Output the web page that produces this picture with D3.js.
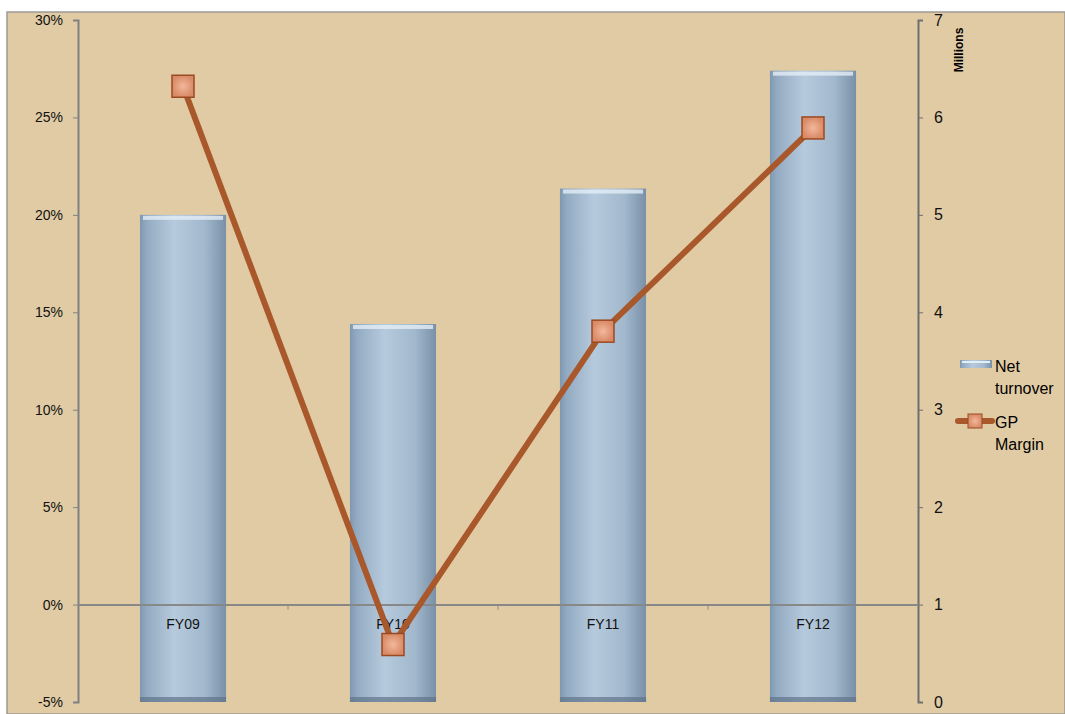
<!DOCTYPE html>
<html>
<head>
<meta charset="utf-8">
<script src="https://cdn.jsdelivr.net/npm/d3@7"></script>
<style>
  body { margin: 0; background: #fff; }
  svg { display: block; font-family: "Liberation Sans", Arial, sans-serif; }
</style>
</head>
<body>
<div class="chart"></div>
<script>
'use strict';

var categories = ['FY09', 'FY10', 'FY11', 'FY12'];
var turnover = [5.0, 3.88, 5.27, 6.48];       // millions, right axis
var gpMargin = [0.266, -0.0205, 0.1403, 0.2446]; // left axis
var pctTicks = [-0.05, 0, 0.05, 0.10, 0.15, 0.20, 0.25, 0.30];
var millionTicks = [0, 1, 2, 3, 4, 5, 6, 7];

(function () {
  var width = 1065, height = 714;
  var left = 78, right = 918, top = 20, bottom = 702;

  var svg = d3.select('.chart').append('svg')
      .attr('width', width)
      .attr('height', height);

  var defs = svg.append('defs');
  var barGrad = defs.append('linearGradient').attr('id', 'barGrad');
  [[0, '#7f98b0'], [0.08, '#93abc2'], [0.4, '#b6cadd'], [0.75, '#a2b8cc'], [1, '#7990a8']]
    .forEach(function (s) {
      barGrad.append('stop').attr('offset', s[0]).attr('stop-color', s[1]);
    });
  var markGrad = defs.append('radialGradient').attr('id', 'markGrad');
  markGrad.append('stop').attr('offset', 0).attr('stop-color', '#f2b89c');
  markGrad.append('stop').attr('offset', 1).attr('stop-color', '#d98a66');

  // background
  svg.append('rect')
      .attr('x', 7).attr('y', 12)
      .attr('width', width - 7).attr('height', height - 12)
      .attr('fill', '#e0cba4')
      .attr('stroke', '#9c9a94').attr('stroke-width', 1.5);

  var x = d3.scaleBand().domain(categories).range([left, right]).paddingInner(0.59).paddingOuter(0.295);
  var xc = d3.scaleBand().domain(categories).range([left, right]);
  var yL = d3.scaleLinear().domain([-0.05, 0.30]).range([bottom, top]);
  var yR = d3.scaleLinear().domain([0, 7]).range([bottom, top]);
  var pct = function (d) { return Math.round(d * 100) + '%'; };

  // bars
  var bars = svg.append('g').selectAll('g')
      .data(turnover)
    .enter().append('g');
  bars.append('rect')
      .attr('x', function (d, i) { return x(categories[i]); })
      .attr('y', function (d) { return yR(d); })
      .attr('width', x.bandwidth())
      .attr('height', function (d) { return yR(0) - yR(d); })
      .attr('fill', 'url(#barGrad)');
  bars.append('rect')
      .attr('x', function (d, i) { return x(categories[i]) + 3; })
      .attr('y', function (d) { return yR(d) + 1; })
      .attr('width', x.bandwidth() - 6)
      .attr('height', 4)
      .attr('fill', '#e4eef6').attr('opacity', 0.8);
  bars.append('rect')
      .attr('x', function (d, i) { return x(categories[i]); })
      .attr('y', yR(0) - 5)
      .attr('width', x.bandwidth())
      .attr('height', 5)
      .attr('fill', '#5f748a').attr('opacity', 0.7);

  // left axis
  var axL = svg.append('g')
      .attr('transform', 'translate(' + left + ',0)')
      .call(d3.axisLeft(yL).tickValues(pctTicks).tickSize(5).tickPadding(10)
        .tickFormat(pct));
  axL.select('.domain').attr('stroke', '#808080').attr('stroke-width', 2);
  axL.selectAll('.tick line').attr('stroke', '#808080');
  axL.selectAll('text').attr('font-size', 14).attr('fill', '#111');

  // right axis
  var axR = svg.append('g')
      .attr('transform', 'translate(' + right + ',0)')
      .call(d3.axisRight(yR).tickValues(millionTicks).tickSize(5).tickPadding(11)
        .tickFormat(d3.format('d')));
  axR.select('.domain').attr('stroke', '#6e6e6e').attr('stroke-width', 2);
  axR.selectAll('.tick line').attr('stroke', '#6e6e6e');
  axR.selectAll('text').attr('font-size', 16).attr('fill', '#111');

  svg.append('text')
      .attr('transform', 'translate(963,50) rotate(-90)')
      .attr('text-anchor', 'middle')
      .attr('font-size', 12).attr('font-weight', 'bold')
      .text('Millions');

  // category axis on zero line
  var axX = svg.append('g')
      .attr('transform', 'translate(0,' + yL(0) + ')')
      .call(d3.axisBottom(xc).tickSize(0).tickPadding(14));
  axX.select('.domain').attr('stroke', '#888').attr('stroke-width', 2);
  axX.selectAll('text').attr('font-size', 14).attr('fill', '#111');
  svg.append('g').selectAll('line')
      .data(categories.slice(1))
    .enter().append('line')
      .attr('x1', function (d) { return xc(d); })
      .attr('x2', function (d) { return xc(d); })
      .attr('y1', yL(0)).attr('y2', yL(0) + 5)
      .attr('stroke', '#888');

  // line
  var line = d3.line()
      .x(function (d, i) { return xc(categories[i]) + xc.bandwidth() / 2; })
      .y(function (d) { return yL(d); });
  svg.append('path')
      .datum(gpMargin)
      .attr('d', line)
      .attr('fill', 'none')
      .attr('stroke', '#a9582b')
      .attr('stroke-width', 6);
  svg.append('g').selectAll('rect')
      .data(gpMargin)
    .enter().append('rect')
      .attr('x', function (d, i) { return xc(categories[i]) + xc.bandwidth() / 2 - 11; })
      .attr('y', function (d) { return yL(d) - 11; })
      .attr('width', 22).attr('height', 22)
      .attr('fill', 'url(#markGrad)')
      .attr('stroke', '#9a4a22').attr('stroke-width', 1.5);

  // legend
  var lg = svg.append('g');
  lg.append('rect')
      .attr('x', 960).attr('y', 360).attr('width', 32).attr('height', 8)
      .attr('fill', 'url(#barGrad)');
  lg.append('rect')
      .attr('x', 962).attr('y', 361).attr('width', 28).attr('height', 2)
      .attr('fill', '#e4eef6');
  lg.append('text').attr('x', 995).attr('y', 372).attr('font-size', 16).text('Net');
  lg.append('text').attr('x', 995).attr('y', 394).attr('font-size', 16).text('turnover');
  lg.append('line')
      .attr('x1', 958).attr('x2', 992).attr('y1', 421).attr('y2', 421)
      .attr('stroke', '#a9582b').attr('stroke-width', 6).attr('stroke-linecap', 'round');
  lg.append('rect')
      .attr('x', 968).attr('y', 414).attr('width', 14).attr('height', 14)
      .attr('fill', 'url(#markGrad)').attr('stroke', '#9a4a22');
  lg.append('text').attr('x', 995).attr('y', 428).attr('font-size', 16).text('GP');
  lg.append('text').attr('x', 995).attr('y', 450).attr('font-size', 16).text('Margin');
})();
</script>
</body>
</html>
